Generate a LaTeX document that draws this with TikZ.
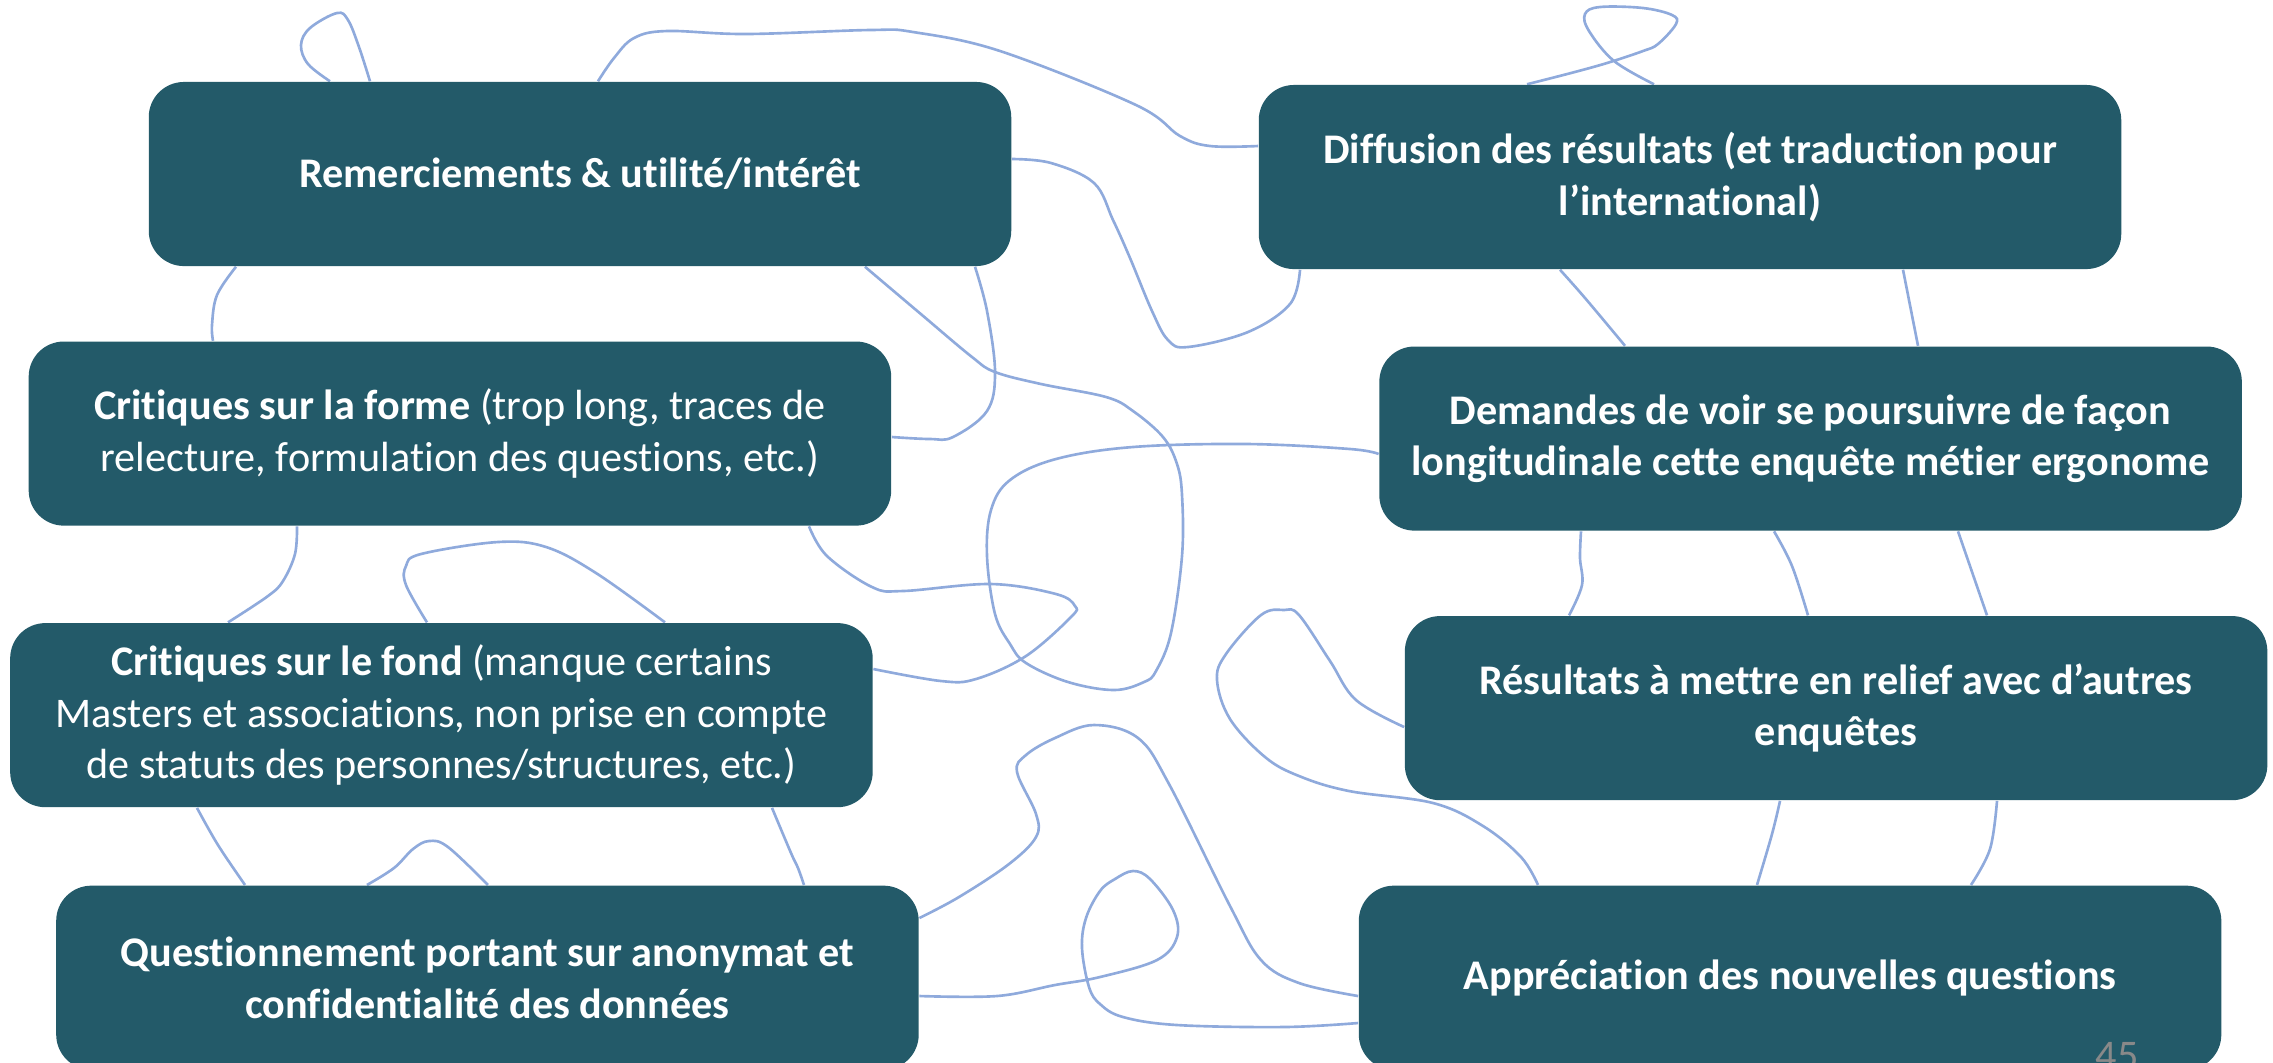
\documentclass[tikz,border=0pt]{standalone}
\usepackage{fontspec}
\setmainfont{Carlito}[Ligatures={NoCommon},RawFeature={-liga;-clig}]
\usepackage{xcolor}
\usetikzlibrary{positioning,backgrounds}

\definecolor{boxteal}{RGB}{35,90,105}
\definecolor{wireblue}{RGB}{143,170,220}
\definecolor{numgray}{RGB}{137,137,137}

\begin{document}
\begin{tikzpicture}[
    x=0.01cm, y=-0.01cm,
    box/.style={rectangle,fill=boxteal,rounded corners=10pt,minimum width=8.62cm,minimum height=1.84cm,align=center,text=white,inner sep=0pt,font=\fontsize{12pt}{14.6pt}\selectfont},
    wire/.style={draw=wireblue,line width=0.75pt},
    pagenum/.style={text=numgray,inner sep=0pt,font=\fontsize{12pt}{14.6pt}\selectfont}
]
    \useasboundingbox (0,0) rectangle (2273,1062);

    % Nodes
    \node[box] (rem) at (580,174) {\textbf{Remerciements \& utilité/intérêt}};
    \node[box,below=0.74cm of rem,xshift=-1.2cm] (forme) {\textbf{Critiques sur la forme} (trop long, traces de\\relecture, formulation des questions, etc.)};
    \node[box,below=0.96cm of forme,xshift=-0.185cm] (fond) {\textbf{Critiques sur le fond} (manque certains\\Masters et associations, non prise en compte\\de statuts des personnes/structures, etc.)};
    \node[box,below=0.77cm of fond,xshift=0.46cm] (quest) {\textbf{Questionnement portant sur anonymat et}\\\textbf{confidentialité des données}};

    \node[box] (diff) at (1690,177) {\textbf{Diffusion des résultats (et traduction pour}\\\textbf{l’international)}};
    \node[box,below=0.76cm of diff,xshift=1.205cm] (dem) {\textbf{Demandes de voir se poursuivre de façon}\\\textbf{longitudinale cette enquête métier ergonome}};
    \node[box,below=0.84cm of dem,xshift=0.255cm] (res) {\textbf{Résultats à mettre en relief avec d’autres}\\\textbf{enquêtes}};
    \node[box,below=0.84cm of res,xshift=-0.46cm] (app) {\textbf{Appréciation des nouvelles questions}};

    \node[pagenum,anchor=north] (num) at (2117,1042) {45};

    % Lines
    \begin{scope}[on background layer]
    \draw[wire] plot[smooth,tension=0.6] coordinates {(rem.north -| 330,0) (308,64) (301,45) (310,28) (337,13) (348,20) (359,47) (rem.north -| 370,0)};
    \draw[wire] plot[smooth,tension=0.6] coordinates {(rem.north -| 598,0) (614,58) (634,38) (667,31) (746,34) (870,30) (913,32) (1000,51) (1136,105) (1180,136) (1210,146) (diff.west |- 0,146)};
    \draw[wire] plot[smooth,tension=0.6] coordinates {(rem.east |- 0,159) (1051,163) (1094,183) (1113,220) (1130,258) (1152,311) (1168,340) (1188,347) (1248,332) (1290,304) (diff.south -| 1300,0)};
    \draw[wire] plot[smooth,tension=0.6] coordinates {(rem.south -| 865,0) (922,315) (972,357) (995,372) (1041,384) (1106,397) (1133,411) (1163,437) (1177,464) (1182,495) (1182,556) (1171,633) (1156,671) (1144,682) (1114,690) (1068,682) (1026,663) (1010,644) (995,614) (987,556) (991,510) (1010,480) (1056,459) (1133,447) (1247,444) (1350,449) (dem.west |- 0,454)};
    \draw[wire] plot[smooth,tension=0.6] coordinates {(rem.south -| 975,0) (987,311) (995,372) (987,411) (953,437) (930,439) (forme.east |- 0,437)};
    \draw[wire] plot[smooth,tension=0.6] coordinates {(rem.south -| 236,0) (217,295) (212,325) (forme.north -| 213,0)};

    \draw[wire] plot[smooth,tension=0.6] coordinates {(forme.south -| 809,0) (827,556) (872,587) (903,591) (991,584) (1056,594) (1075,606) (1071,617) (1026,656) (976,679) (941,681) (fond.east |- 0,669)};
    \draw[wire] plot[smooth,tension=0.6] coordinates {(forme.south -| 297,0) (295,554) (283,581) (268,596) (fond.north -| 228,0)};
    \draw[wire] plot[smooth,tension=0.6] coordinates {(fond.north -| 427,0) (406,585) (406,566) (421,554) (498,542) (546,547) (596,573) (fond.north -| 665,0)};

    \draw[wire] plot[smooth,tension=0.6] coordinates {(fond.south -| 197,0) (218,845) (quest.north -| 245,0)};
    \draw[wire] plot[smooth,tension=0.6] coordinates {(quest.north -| 367,0) (394,868) (413,849) (429,841) (448,847) (quest.north -| 488,0)};
    \draw[wire] plot[smooth,tension=0.6] coordinates {(fond.south -| 772,0) (791,853) (798,868) (quest.north -| 804,0)};

    \draw[wire] plot[smooth,tension=0.6] coordinates {(quest.east |- 0,918) (959,897) (1009,864) (1036,837) (1036,814) (1017,772) (1026,755) (1055,738) (1094,725) (1138,738) (1169,784) (1230,906) (1261,960) (1299,983) (app.west |- 0,996)};
    \draw[wire] plot[smooth,tension=0.6] coordinates {(quest.east |- 0,996) (997,996) (1055,985) (1100,977) (1157,960) (1177,937) (1173,910) (1150,879) (1133,871) (1115,879) (1100,891) (1086,918) (1082,948) (1089,987) (1100,1004) (1123,1017) (1177,1025) (1284,1027) (app.west |- 0,1023)};

    \draw[wire] plot[smooth,tension=0.6] coordinates {(diff.north -| 1527,0) (1571,73) (1607,63) (1643,51) (1658,44) (1676,24) (1672,15) (1643,8) (1600,7) (1585,14) (1589,31) (1614,61) (diff.north -| 1654,0)};
    \draw[wire] plot[smooth,tension=0.6] coordinates {(diff.south -| 1560,0) (1585,298) (dem.north -| 1625,0)};
    \draw[wire] (diff.south -| 1903,0) -- (dem.north -| 1918,0);

    \draw[wire] plot[smooth,tension=0.6] coordinates {(dem.south -| 1581,0) (1580,558) (1582,585) (res.north -| 1569,0)};
    \draw[wire] plot[smooth,tension=0.6] coordinates {(dem.south -| 1774,0) (1792,566) (res.north -| 1808,0)};
    \draw[wire] (dem.south -| 1958,0) -- (res.north -| 1987,0);

    \draw[wire] plot[smooth,tension=0.6] coordinates {(res.west |- 0,727) (1356,700) (1330,661) (1299,615) (1284,610) (1261,615) (1226,654) (1217,680) (1230,719) (1265,757) (1299,776) (1349,791) (1433,803) (1483,826) (1521,857) (app.north -| 1538,0)};
    \draw[wire] plot[smooth,tension=0.6] coordinates {(res.south -| 1780,0) (1772,834) (app.north -| 1757,0)};
    \draw[wire] plot[smooth,tension=0.6] coordinates {(res.south -| 1997,0) (1990,849) (app.north -| 1971,0)};
    \end{scope}
\end{tikzpicture}
\end{document}
